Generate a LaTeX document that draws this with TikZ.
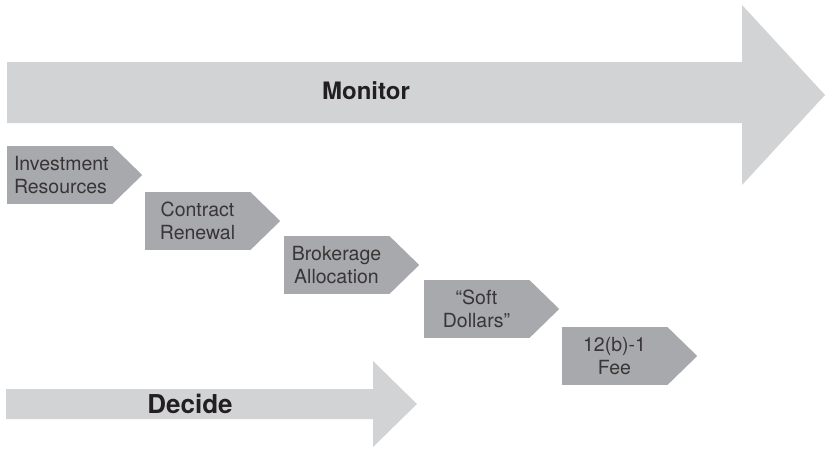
\documentclass[tikz,border=0pt]{standalone}
\usepackage{fontspec}
\setmainfont{TeX Gyre Heros}
\definecolor{biggray}{HTML}{D1D3D4}
\definecolor{boxgray}{HTML}{A7A9AC}
\definecolor{txtdark}{HTML}{231F20}
\tikzset{
  stepbox/.style={fill=boxgray, minimum width=105pt, minimum height=58pt, inner sep=0pt,
    align=center, text=txtdark!90, font=\fontsize{19.5}{22.5}\selectfont},
  bigtext/.style={text=txtdark, font=\bfseries\fontsize{24}{28}\selectfont, inner sep=0pt},
  headfill/.style={fill=boxgray}
}
\begin{document}
\begin{tikzpicture}[x=1pt,y=-1pt]
\useasboundingbox (0,0) rectangle (825,450);
% Monitor arrow
\fill[biggray] (7,62) -- (742,62) -- (742,5) -- (825,95) -- (742,185) -- (742,123) -- (7,123) -- cycle;
\node[bigtext] (monitor) at (366,91) {Monitor};
% Decide arrow
\fill[biggray] (6,389) -- (373,389) -- (373,361) -- (417,404) -- (373,447) -- (373,419) -- (6,419) -- cycle;
\node[bigtext, font=\bfseries\fontsize{26}{30}\selectfont] (decide) at (190,404) {Decide};
% step boxes
\node[stepbox, align=left, text width=91pt, inner xsep=7pt] (s1) at (59.5,175) {Investment\\Resources};
\node[stepbox] (s2) at (197.5,221) {Contract\\Renewal};
\node[stepbox] (s3) at (336.5,265) {Brokerage\\Allocation};
\node[stepbox] (s4) at (476.5,309) {“Soft\\Dollars”};
\node[stepbox] (s5) at (614.5,356) {12(b)-1\\Fee};
\foreach \n in {s1,s2,s3,s4,s5}{
  \fill[headfill] (\n.north east) -- ([xshift=30pt]\n.east) -- (\n.south east) -- cycle;
}
\end{tikzpicture}
\end{document}
